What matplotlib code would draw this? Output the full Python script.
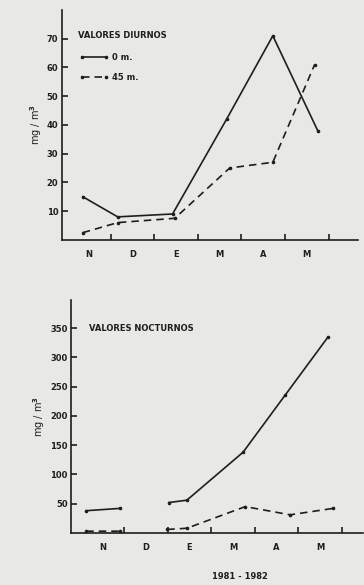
import numpy as np
import matplotlib.pyplot as plt

# sampling dates as fractional month positions (tick 1 = end of N, etc.)
months = ['N', 'D', 'E', 'M', 'A', 'M']

day_x0 = [0.36, 1.16, 2.42, 3.66, 4.72, 5.75]
day_0m = [15, 8, 9, 42, 71, 38]
day_x45 = [0.36, 1.16, 2.47, 3.73, 4.72, 5.68]
day_45m = [2.5, 6, 7.5, 25, 27, 61]

night_x0 = [0.13, 0.91, np.nan, 2.03, 2.44, 3.73, 4.69, 5.68]
night_0m = [38, 42, np.nan, 52, 56, 138, 235, 335]
night_x45 = [0.13, 0.91, np.nan, 1.99, 2.44, 3.78, 4.81, 5.80]
night_45m = [3, 3, np.nan, 6, 8, 45, 31, 42]

BG = '#e8e8e5'
INK = '#1e1e1e'

plt.rcParams['font.family'] = 'DejaVu Sans'
plt.rcParams['font.weight'] = 'bold'

fig = plt.figure(figsize=(3.64, 5.85), dpi=100, facecolor=BG)
ax1 = fig.add_axes([0.170, 0.590, 0.813, 0.393])
ax2 = fig.add_axes([0.195, 0.089, 0.802, 0.398])


def style(ax, xlim, ylim, yticks):
    ax.set_facecolor(BG)
    for s in ['top', 'right']:
        ax.spines[s].set_visible(False)
    for s in ['left', 'bottom']:
        ax.spines[s].set_color(INK)
        ax.spines[s].set_linewidth(1.2)
    ax.set_xlim(*xlim)
    ax.set_ylim(*ylim)
    ax.set_xticks(range(1, 7))
    ax.set_xticklabels([])
    ax.set_xticks([i + 0.5 for i in range(len(months))], minor=True)
    ax.set_xticklabels(months, minor=True)
    ax.tick_params(axis='x', which='major', direction='in', length=4, width=1.2, color=INK)
    ax.tick_params(axis='x', which='minor', length=0, pad=7, labelsize=6, labelcolor=INK)
    ax.set_yticks(yticks)
    ax.tick_params(axis='y', direction='in', length=4, width=1.2, color=INK,
                   labelsize=6, labelcolor=INK, pad=2.5)
    ax.set_ylabel('mg / m$^3$', fontsize=7, color=INK, labelpad=2)


style(ax1, (-0.12, 6.67), (0, 80), range(10, 80, 10))
style(ax2, (-0.22, 6.48), (0, 398), range(50, 400, 50))

kw = dict(color=INK, lw=1.2, marker='o', ms=1.6)
dash = (0, (4.5, 3))
l0, = ax1.plot(day_x0, day_0m, ls='-', **kw)
l45, = ax1.plot(day_x45, day_45m, ls=dash, **kw)
ax1.text(0.24, 71, 'VALORES DIURNOS', fontsize=6, color=INK, va='center')
ax1.legend([l0, l45], ['0 m.', '45 m.'], loc='upper left', bbox_to_anchor=(0.035, 0.845),
           frameon=False, fontsize=6, handlelength=3.4, handletextpad=0.5,
           labelspacing=1.3, numpoints=2, labelcolor=INK)

ax2.plot(night_x0, night_0m, ls='-', **kw)
ax2.plot(night_x45, night_45m, ls=dash, **kw)
ax2.text(0.2, 350, 'VALORES NOCTURNOS', fontsize=6, color=INK, va='center')

fig.text(0.66, 0.015, '1981 - 1982', fontsize=6, color=INK, ha='center', va='center')

fig.savefig('out.png', dpi=100, facecolor=BG)
